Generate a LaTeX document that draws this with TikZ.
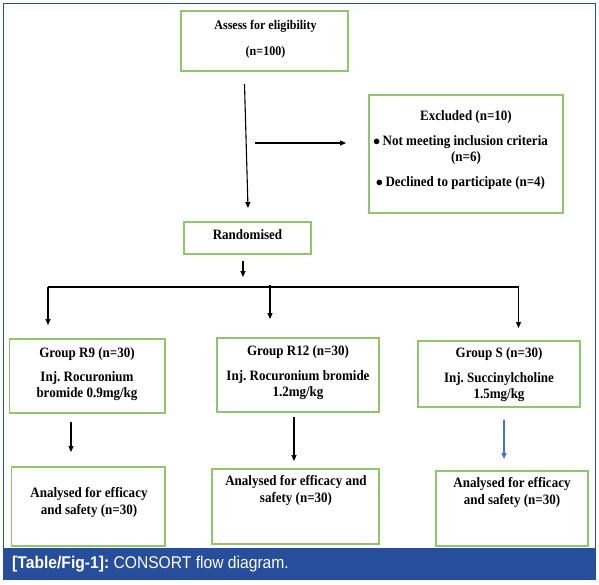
\documentclass[tikz,border=0pt]{standalone}
\usepackage{fontspec}
\setmainfont[FakeStretch=0.91]{Liberation Serif}
\newfontfamily\capfont[FakeStretch=0.92]{Liberation Sans}
\usetikzlibrary{arrows.meta}
\definecolor{boxgreen}{RGB}{146,196,110}
\definecolor{barblue}{RGB}{38,78,155}
\definecolor{arrblue}{RGB}{68,114,196}
\tikzset{
  box/.style={draw=boxgreen,line width=1.3pt,rectangle,inner sep=0pt},
  txt/.style={font=\bfseries\fontsize{14.3}{16}\selectfont,align=center,inner sep=0pt},
  flow/.style={line width=1.1pt,-{Triangle[length=6pt,width=5pt]}}
}
\frenchspacing

\begin{document}
\begin{tikzpicture}[x=1pt,y=-1pt]
  \useasboundingbox (0,0) rectangle (599,584);
  \draw[barblue,line width=1pt] (3.5,3.5) rectangle (595.5,548);
  \fill[barblue] (3,548) rectangle (596,580);
  \node[anchor=west,text=white,inner sep=0pt,font=\capfont\fontsize{17}{18}\selectfont] (cap) at (12,564)
    {\textbf{[Table/Fig-1]:} CONSORT flow diagram.};

  \node[box,minimum width=167,minimum height=60] (assess) at (264.5,41) {};
  \node[box,minimum width=194,minimum height=118] (excl) at (466,154) {};
  \node[box,minimum width=127,minimum height=32] (rand) at (247.5,238) {};
  \node[box,minimum width=155.5,minimum height=74] (r9) at (87.25,376) {};
  \node[box,minimum width=162,minimum height=74] (r12) at (298,375) {};
  \node[box,minimum width=162,minimum height=66] (grps) at (499,374) {};
  \node[box,minimum width=153.5,minimum height=79] (an9) at (88.25,506.5) {};
  \node[box,minimum width=167,minimum height=75] (an12) at (295.5,506.5) {};
  \node[box,minimum width=152,minimum height=75] (ans) at (512,508.5) {};

  \node[txt,font=\bfseries\fontsize{13.2}{16}\selectfont] (assess-t) at (265.5,39) {Assess for eligibility\\[10pt](n=100)};
  \node[txt] (excl-t) at (466,117) {Excluded (n=10)};
  \node[txt] (excl-a) at (460.5,142) {$\bullet$\,Not meeting inclusion criteria};
  \node[txt] (excl-n) at (466,158) {(n=6)};
  \node[txt] (excl-b) at (460.5,183) {$\bullet$\,Declined to participate (n=4)};
  \node[txt] (rand-t) at (247.5,235) {Randomised};
  \node[txt] (r9-t) at (87,374) {Group R9 (n=30)\\[8pt]Inj. Rocuronium\\bromide 0.9mg/kg};
  \node[txt] (r12-t) at (298,372.5) {Group R12 (n=30)\\[9pt]Inj. Rocuronium bromide\\1.2mg/kg};
  \node[txt] (grps-t) at (499,374.5) {Group S (n=30)\\[9pt]Inj. Succinylcholine\\1.5mg/kg};
  \node[txt] (an9-t) at (89,502.5) {Analysed for efficacy\\[1pt]and safety (n=30)};
  \node[txt] (an12-t) at (296,490.5) {Analysed for efficacy and\\[1pt]safety (n=30)};
  \node[txt] (ans-t) at (512,492.5) {Analysed for efficacy\\[1pt]and safety (n=30)};

  \coordinate (c1) at (244.5,84);
  \coordinate (c2) at (248,208);
  \coordinate (c3) at (255,143);
  \coordinate (c4) at (346,143);
  \coordinate (c5) at (243,261);
  \coordinate (c6) at (243,277);
  \coordinate (bl) at (48,287);
  \coordinate (br) at (518.5,287);
  \coordinate (bm) at (270,285);

  \draw[flow] (c1) -- (c2);
  \draw[flow] (c3) -- (c4);
  \draw[flow] (c5) -- (c6);
  \draw[line width=1.1pt] (bl) -- (br);
  \draw[flow] (bl) -- (48,325);
  \draw[flow] (bm) -- (270,319);
  \draw[flow] (br) -- (518.5,328);
  \draw[flow] (71,422) -- (71,452);
  \draw[flow] (294,417) -- (294,461);
  \draw[flow,arrblue] (504,420) -- (504,459);
\end{tikzpicture}
\end{document}
